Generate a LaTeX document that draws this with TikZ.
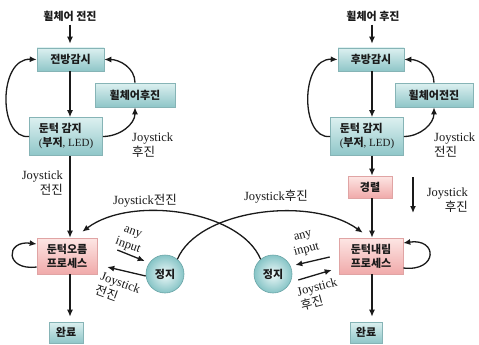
\documentclass[tikz,border=0pt]{standalone}
\usepackage{fontspec}
\setmainfont{Liberation Serif}
\newfontfamily\kr{Noto Sans CJK KR}
\usetikzlibrary{arrows.meta,calc}
\newcommand\hk[1]{{\kr\bfseries #1}}
\newcommand\hl[1]{{\kr #1}}
\definecolor{tealtop}{HTML}{DCF0F0}
\definecolor{tealbot}{HTML}{8FC6C8}
\definecolor{tealedge}{HTML}{86B4B6}
\definecolor{pinktop}{HTML}{FDE6E4}
\definecolor{pinkbot}{HTML}{F0AAAA}
\definecolor{pinkedge}{HTML}{E0A4A4}
\definecolor{ballin}{HTML}{EEF9F9}
\definecolor{ballout}{HTML}{86C4C6}
\definecolor{balledge}{HTML}{6AA5A7}
\definecolor{ink}{HTML}{1A1A1A}
\tikzset{
  boxbase/.style={rectangle, line width=0.6pt, inner sep=2pt, text=ink,
    font=\fontsize{11}{14}\selectfont},
  tealbox/.style={boxbase, draw=tealedge, top color=tealtop, bottom color=tealbot},
  pinkbox/.style={boxbase, draw=pinkedge, top color=pinktop, bottom color=pinkbot},
  stopball/.style={circle, draw=balledge, line width=0.6pt, inner color=ballin,
    outer color=ballout, minimum size=38pt, inner sep=0pt, text=ink,
    font=\fontsize{11}{14}\selectfont},
  toptext/.style={text=ink, font=\fontsize{11}{14}\selectfont},
  lbl/.style={text=ink, inner sep=0pt, font=\fontsize{12.5}{14.5}\selectfont},
  arr/.style={draw=ink, line width=1.3pt, -{Latex[length=7pt,width=6pt]}},
}
\begin{document}
\begin{tikzpicture}[x=1pt,y=-1pt]
\useasboundingbox (0,0) rectangle (479,345);
\fill[white] (0,0) rectangle (479,345);

% guide lines for the two main columns
\coordinate (lx) at (70,0);
\coordinate (rx) at (372,0);

% ---------- forward side ----------
\node[toptext] (t1) at (70,16) {\hk{휠체어 전진}};
\node[tealbox, minimum width=67pt, minimum height=23pt] (fw) at (70.5,59.5) {\hk{전방감시}};
\node[tealbox, minimum width=80pt, minimum height=24pt] (bk) at (135,95) {\hk{휠체어후진}};
\node[tealbox, minimum width=73pt, minimum height=38pt, align=left] (bd1) at (66,136.5)
  {\hk{둔턱 감지}\\(\hk{부저}, LED)};
\node[pinkbox, minimum width=60pt, minimum height=36pt, align=center] (up) at (67,256)
  {\hk{둔턱오름}\\\hk{프로세스}};
\node[tealbox, minimum width=34pt, minimum height=21pt] (done1) at (66,332.5) {\hk{완료}};
\node[stopball] (stop1) at (165,274) {\hk{정지}};

% ---------- backward side ----------
\node[toptext] (t2) at (373,16) {\hk{휠체어 후진}};
\node[tealbox, minimum width=66pt, minimum height=23pt] (rw) at (371,59.5) {\hk{후방감시}};
\node[tealbox, minimum width=78pt, minimum height=24pt] (fw2) at (434,95) {\hk{휠체어전진}};
\node[tealbox, minimum width=73pt, minimum height=38pt, align=left] (bd2) at (367,136.5)
  {\hk{둔턱 감지}\\(\hk{부저}, LED)};
\node[pinkbox, minimum width=44pt, minimum height=22pt] (warn) at (370,187) {\hk{경렬}};
\node[pinkbox, minimum width=64pt, minimum height=36pt, align=center] (down) at (371,256)
  {\hk{둔턱내림}\\\hk{프로세스}};
\node[tealbox, minimum width=32pt, minimum height=21pt] (done2) at (366,332.5) {\hk{완료}};
\node[stopball] (stop2) at (273,274) {\hk{정지}};

% ---------- forward side connectors ----------
\draw[arr, shorten >=4pt] (lx |- t1.south) -- (lx |- fw.north);
\draw[arr] (lx |- fw.south) -- (lx |- bd1.north);
\draw[arr] (bd1.west) .. controls (-2,140) and (-2,58) .. (fw.west);
\draw[arr] (bd1.east) to[out=0,in=-90] (bk.south);
\draw[arr] (bk.north) to[out=90,in=0] (fw.east);
\draw[arr] (lx |- bd1.south) -- (lx |- up.north);
\draw[arr, shorten >=5pt] (lx |- up.south) -- (lx |- done1.north);
\draw[arr] ([yshift=-11pt]up.west) .. controls (5,271) and (5,240) .. ([yshift=12pt]up.west);
\draw[arr] ($(up.east)+(20,-6)$) -- ($(stop1.west)+(-1,-13)$);
\draw[arr] ($(stop1.west)+(0,2)$) -- ($(up.east)+(10,11)$);

% ---------- backward side connectors ----------
\draw[arr, shorten >=4pt] (rx |- t2.south) -- (rx |- rw.north);
\draw[arr] (rx |- rw.south) -- (rx |- bd2.north);
\draw[arr] (bd2.west) .. controls (300,140) and (300,58) .. (rw.west);
\draw[arr] (bd2.east) to[out=0,in=-90] (fw2.south);
\draw[arr] (fw2.north) to[out=90,in=0] (rw.east);
\draw[arr] (rx |- bd2.south) -- (rx |- warn.north);
\draw[arr] (rx |- warn.south) -- (rx |- down.north);
\draw[arr, shorten >=5pt] (rx |- down.south) -- (rx |- done2.north);
\draw[arr] ([yshift=-12pt]down.east) .. controls (438,272) and (438,238) .. ([yshift=13pt]down.east);
\draw[arr] ($(down.west)+(-9,1)$) -- ($(stop2.east)+(3,-9)$);
\draw[arr] ($(stop2.east)+(6,6)$) -- ($(down.west)+(-7,14)$);
\coordinate (ja) at (413,177);
\coordinate (jb) at (413,213);
\draw[arr] (ja) -- (jb);

% ---------- crossing transitions from the stop states ----------
\draw[arr] (stop1.50) .. controls (198,210) and (310,195) .. ($(down.north west)+(24,-5)$);
\draw[arr] (stop2.130) .. controls (240,210) and (131,195) .. ($(up.north east)+(-15,-6)$);

% ---------- labels ----------
\node[lbl, anchor=east, align=right] at (63,183) {Joystick\\\hl{전진}};
\node[lbl, anchor=west, align=left] at (132,145) {Joystick\\\hl{후진}};
\node[lbl, anchor=west, align=left] at (434,145) {Joystick\\\hl{전진}};
\node[lbl, anchor=east, align=right] at (468,200) {Joystick\\\hl{후진}};
\node[lbl] at (145,201) {Joystick\hl{전진}};
\node[lbl] at (276,197) {Joystick\hl{후진}};
\node[lbl, rotate=-20, align=center] at (130,240) {any\\input};
\node[lbl, rotate=-20, align=left] at (118,290) {Joystick\\\hl{전진}};
\node[lbl, rotate=15, align=center] at (305,244) {any\\input};
\node[lbl, rotate=15, align=left] at (319,294) {Joystick\\\hl{후진}};
\end{tikzpicture}
\end{document}
